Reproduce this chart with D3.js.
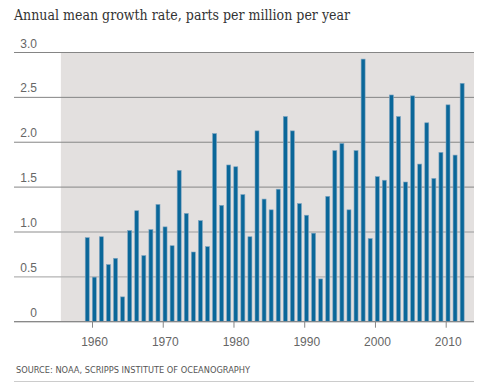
<!DOCTYPE html>
<html><head><meta charset="utf-8">
<script src="https://cdn.jsdelivr.net/npm/d3@7"></script>
<style>body{margin:0;background:#fff}</style>
</head><body><svg id="c" width="497" height="387"></svg>
<script>
const years = d3.range(1959, 2013);
const values = [0.94,0.50,0.95,0.64,0.71,0.28,1.02,1.24,0.74,1.03,1.31,1.06,0.85,1.69,1.21,0.78,1.13,0.84,2.10,1.30,1.75,1.73,1.42,0.95,2.13,1.37,1.25,1.48,2.29,2.13,1.32,1.19,0.99,0.48,1.40,1.91,1.99,1.25,1.91,2.93,0.93,1.62,1.58,2.53,2.29,1.56,2.52,1.76,2.22,1.60,1.89,2.42,1.86,2.66];
const yTicks = [0,0.5,1.0,1.5,2.0,2.5,3.0];
const xTicks = [1960,1970,1980,1990,2000,2010];
const title = "Annual mean growth rate, parts per million per year";
const source = "SOURCE: NOAA, SCRIPPS INSTITUTE OF OCEANOGRAPHY";

const svg = d3.select("#c");
const x = d3.scaleLinear().domain([1960, 2010]).range([92, 445.7]);
const y = d3.scaleLinear().domain([0, 3]).range([321.7, 52.5]);
const left = 14, right = 474;

svg.append("text").attr("x", 14).attr("y", 19.5).text(title)
  .attr("font-family", "DejaVu Serif, Georgia, serif").attr("font-size", 14.2)
  .attr("fill", "#333").attr("textLength", 336).attr("lengthAdjust","spacingAndGlyphs");

svg.append("rect").attr("x", x(1955.6)).attr("y", y(3)).attr("width", right - x(1955.6))
  .attr("height", y(0) - y(3)).attr("fill", "#e3e0df");

// gridlines
svg.append("g").selectAll("line").data(yTicks).join("line")
  .attr("x1", left).attr("x2", right).attr("y1", d => y(d)).attr("y2", d => y(d))
  .attr("stroke", d => (d === 0.5 || d === 1.0) ? "#b3b3b3" : "#858585")
  .attr("stroke-width", d => (d === 0.5 || d === 1.0) ? 1.4 : 1);

svg.append("g").selectAll("text").data(yTicks).join("text")
  .attr("x", 37).attr("y", d => y(d) - 5).attr("text-anchor", "end")
  .attr("font-family", "Liberation Sans, Arial, sans-serif").attr("font-size", 12)
  .attr("fill", "#666").text(d => d === 0 ? "0" : d.toFixed(1));

// bars
const bw = 4.6;
svg.append("g").selectAll("rect").data(years).join("rect")
  .attr("x", d => x(d) + 0.3).attr("width", bw - 0.6)
  .attr("y", (d, i) => y(values[i]) + 0.3).attr("height", (d, i) => y(0) - y(values[i]) - 0.3)
  .attr("fill", "#0a6799").attr("stroke", "#7ea5c1").attr("stroke-width", 0.6);

// x axis
const xa = svg.append("g").attr("transform", `translate(0,${y(0)})`)
  .call(d3.axisBottom(x).tickValues(xTicks).tickFormat(d3.format("d")).tickSize(6).tickPadding(10));
xa.select(".domain").remove();
xa.selectAll(".tick line").attr("stroke", "#888");
xa.selectAll(".tick text").attr("dx", 2).attr("font-family", "Liberation Sans, Arial, sans-serif")
  .attr("font-size", 12).attr("fill", "#666");

svg.append("line").attr("x1", left).attr("x2", right).attr("y1", y(0)).attr("y2", y(0))
  .attr("stroke", "#858585");

svg.append("text").attr("x", 16).attr("y", 373).text(source)
  .attr("font-family", "DejaVu Sans Condensed, Liberation Sans Narrow, sans-serif").attr("font-size", 9)
  .attr("fill", "#555").attr("textLength", 234).attr("lengthAdjust","spacingAndGlyphs");
svg.append("line").attr("x1", left).attr("x2", right).attr("y1", 381.5).attr("y2", 381.5)
  .attr("stroke", "#ccc");
</script></body></html>
